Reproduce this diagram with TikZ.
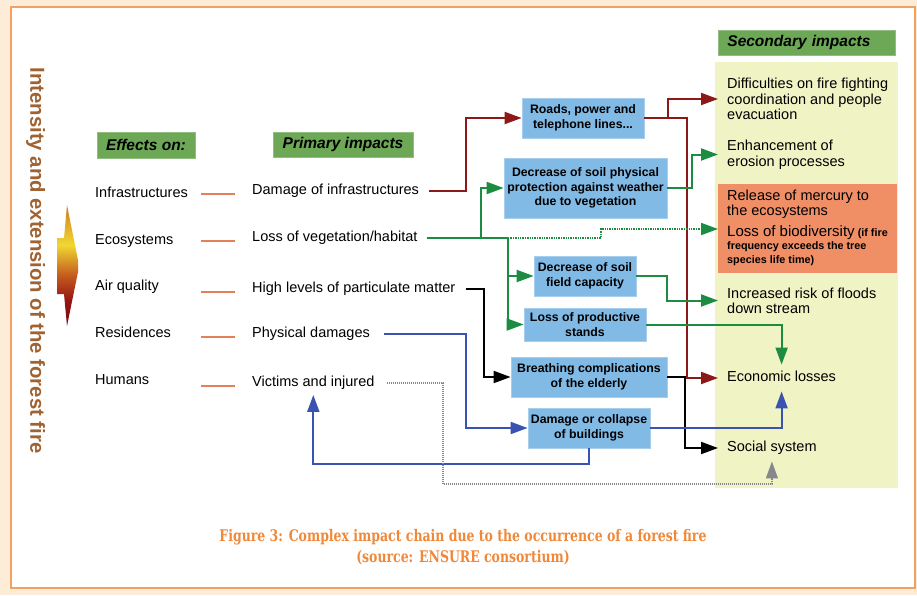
\documentclass[tikz,border=0pt]{standalone}
\usepackage{fontspec}
\setmainfont{Liberation Sans}
\newfontfamily\capfont[FakeStretch=0.78]{DejaVu Serif}
\usetikzlibrary{arrows.meta}

\definecolor{peach}{RGB}{253,236,216}
\definecolor{frameorange}{RGB}{246,160,96}
\definecolor{hdrgreen}{RGB}{108,168,86}
\definecolor{paleyellow}{RGB}{240,243,196}
\definecolor{salmon}{RGB}{240,142,102}
\definecolor{boxblue}{RGB}{130,186,230}
\definecolor{linered}{RGB}{140,24,24}
\definecolor{linegreen}{RGB}{28,140,64}
\definecolor{lineblue}{RGB}{58,82,176}
\definecolor{linegrey}{RGB}{135,135,140}
\definecolor{dashorange}{RGB}{226,128,90}
\definecolor{captionorange}{RGB}{240,136,56}
\definecolor{vbrown}{RGB}{160,98,48}
\definecolor{flameA}{RGB}{120,10,15}
\definecolor{flameB}{RGB}{150,22,20}
\definecolor{flameC}{RGB}{196,92,30}
\definecolor{flameD}{RGB}{240,215,50}
\definecolor{flameE}{RGB}{226,170,40}
\definecolor{flameF}{RGB}{200,120,30}

% flame gradient: dark red at the foot, yellow in the upper body
\pgfdeclareverticalshading{flame}{100bp}{%
  color(0bp)=(flameA); color(25bp)=(flameA); color(35.7bp)=(flameB);
  color(46bp)=(flameC); color(58.5bp)=(flameD); color(66.7bp)=(flameE);
  color(75bp)=(flameF); color(100bp)=(flameF)}

\begin{document}
\begin{tikzpicture}[x=1pt,y=-1pt,
  conn/.style={line width=2pt, -{Triangle[length=17pt,width=12pt]}},
  redl/.style={conn, linered},
  grnl/.style={conn, linegreen},
  blul/.style={conn, lineblue},
  blkl/.style={conn, black},
  grndot/.style={conn, linegreen, line width=1.8pt, dash pattern=on 1.3pt off 1.1pt},
  greydot/.style={line width=1.2pt, linegrey, dash pattern=on 1pt off 1pt,
    -{Triangle[length=17pt,width=12pt]}},
  orangedash/.style={line width=2pt, dashorange},
  header/.style={fill=hdrgreen, draw=hdrgreen!75!white, line width=0.8pt,
    inner sep=0pt, font=\fontsize{15.5}{17}\selectfont\bfseries\itshape},
  effect/.style={anchor=west, inner sep=0pt, font=\fontsize{14.5}{16}\selectfont,
    text height=10.5pt, text depth=3pt},
  primary/.style={anchor=west, inner xsep=0pt, inner ysep=5pt,
    font=\fontsize{14.5}{16}\selectfont, text height=10.5pt, text depth=3pt},
  second/.style={anchor=west, inner xsep=9pt, inner ysep=0pt, align=left,
    font=\fontsize{14.5}{15.5}\selectfont},
  secone/.style={anchor=west, inner xsep=9pt, inner ysep=6.5pt,
    font=\fontsize{14.5}{15.5}\selectfont, text height=10.5pt, text depth=3pt},
  stepbox/.style={fill=boxblue, draw=boxblue!70!white, line width=0.8pt,
    inner sep=0pt, align=center, font=\fontsize{12.3}{14.5}\selectfont\bfseries}
  ]
\useasboundingbox (0,0) rectangle (917,595);

% page ground and frame
\fill[peach] (0,0) rectangle (917,595);
\draw[frameorange, line width=1.6pt, fill=white] (11,7) rectangle (915,588);

% side caption and flame arrow
\node[rotate=-90, text=vbrown, inner sep=0pt,
  font=\fontsize{20.3}{22}\selectfont\bfseries] (side) at (35.5,260.5)
  {Intensity and extension of the forest fire};
\shade[shading=flame] (67,205) -- (78,260) -- (78,272) -- (67,326) -- (64,294)
  -- (57,294) -- (57,238) -- (64,238) -- cycle;

% background panels of the secondary column
\fill[paleyellow] (715,62) rectangle (898,488);
\fill[salmon] (718,184) rectangle (897,273);

% column headers
\node[header, minimum width=98pt, minimum height=26pt] (hEff) at (146,145) {Effects on:};
\node[header, minimum width=140pt, minimum height=25pt] (hPri) at (343,144.5) {Primary impacts};
\node[header, minimum width=177pt, minimum height=25pt, anchor=west,
  inner xsep=9pt, text width=159pt, align=left] (hSec) at (718,42.5) {Secondary impacts};

% effects on
\node[effect] (infra) at (95,194) {Infrastructures};
\node[effect] (eco)   at (95,241) {Ecosystems};
\node[effect] (air)   at (95,287) {Air quality};
\node[effect] (res)   at (95,334) {Residences};
\node[effect] (hum)   at (95,381) {Humans};

% primary impacts
\node[primary] (dmg)  at (252,191) {Damage of infrastructures};
\node[primary] (veg)  at (252,238) {Loss of vegetation/habitat};
\node[primary] (pm)   at (252,289) {High levels of particulate matter};
\node[primary] (phys) at (252,334) {Physical damages};
\node[primary] (vic)  at (252,383) {Victims and injured};

% short links between the two columns
\coordinate (dA) at (201,0);
\coordinate (dB) at (235,0);
\foreach \p in {dmg,veg,pm,phys,vic}
  \draw[orangedash] ([yshift=-2.5pt]\p.west -| dA) -- ([yshift=-2.5pt]\p.west -| dB);

% secondary impacts
\node[second] (diff) at (718,99) {Difficulties on fire fighting\\coordination and people\\evacuation};
\node[second] (eros) at (718,154.5) {Enhancement of\\erosion processes};
\node[second, font=\fontsize{14.5}{15}\selectfont] (merc) at (718,204.5) {Release of mercury to\\the ecosystems};
\node[second, anchor=north west, font=\fontsize{10.8}{13.5}\selectfont\bfseries] (bio) at (718,225)
  {{\fontsize{15}{13.5}\selectfont\mdseries Loss of biodiversity} (if fire\\frequency exceeds the tree\\species life time)};
\node[second, font=\fontsize{14.5}{15}\selectfont] (flood) at (718,300.5) {Increased risk of floods\\down stream};
\node[secone] (econ) at (718,378) {Economic losses};
\node[secone] (social) at (718,448) {Social system};

% bend columns
\coordinate (r0) at (466,0);
\coordinate (r1) at (668,0);
\coordinate (r2) at (687,0);
\coordinate (g0) at (481,0);
\coordinate (g2) at (508,0);
\coordinate (g3) at (601,0);
\coordinate (g4) at (692,0);
\coordinate (g5) at (667,0);
\coordinate (k0) at (484,0);
\coordinate (k1) at (685,0);
\coordinate (b0) at (466,0);
\coordinate (b1) at (0,464);
\coordinate (w1) at (443,484);

% intermediate impacts
\node[stepbox, minimum width=122pt, minimum height=40pt] (roads)    at (583,118)   {Roads, power and\\telephone lines...};
\node[stepbox, minimum width=163pt, minimum height=60pt] (soilprot) at (585.5,188) {Decrease of soil physical\\protection against weather\\due to vegetation};
\node[stepbox, minimum width=102pt, minimum height=40pt] (fieldcap) at (585,276)   {Decrease of soil\\field capacity};
\node[stepbox, minimum width=122pt, minimum height=33pt] (stands)   at (585,324.5) {Loss of productive\\stands};
\node[stepbox, minimum width=156pt, minimum height=40pt] (breath)   at (589,377)   {Breathing complications\\of the elderly};
\node[stepbox, minimum width=122pt, minimum height=40pt] (bld)      at (589,428)   {Damage or collapse\\of buildings};

% infrastructure chain
\draw[redl] ([xshift=10pt]dmg.east) -- (dmg.east -| r0) |- (roads.west);
\draw[redl] (roads.east) -- (roads.east -| r1) |- (diff.west);
\draw[redl] (roads.east) -- (roads.east -| r2) |- (econ.west);

% vegetation chain
\draw[grnl] ([xshift=9pt]veg.east) -- (veg.east -| g0) |- (soilprot.west);
\draw[grnl] ([xshift=9pt]veg.east) -- (veg.east -| g2) |- (fieldcap.west);
\draw[grnl] (veg.east -| g2) |- (stands.west);
\draw[grndot] (veg.east -| g2) -- (veg.east -| g3) |- ([yshift=-4pt]bio.north west);
\draw[grnl] (soilprot.east) -- (soilprot.east -| g4) |- (eros.west);
\draw[grnl] (fieldcap.east) -- (fieldcap.east -| g5) |- (flood.west);
\draw[grnl] (stands.east) -| (econ.north);

% air quality chain
\draw[blkl] ([xshift=10pt]pm.east) -- (pm.east -| k0) |- (breath.west);
\draw[blkl] (breath.east) -- (breath.east -| k1) |- (social.west);

% residences chain
\draw[blul] ([xshift=14pt]phys.east) -- (phys.east -| b0) |- (bld.west);
\draw[blul] (bld.east) -| (econ.south);
\draw[blul] (bld.south) -- (bld.south |- b1) -| (vic.south);

% human chain
\draw[greydot] ([xshift=12pt]vic.east) -| (w1) -| (social.south);

% figure caption
\node[align=center, text=captionorange, inner sep=0pt,
  font=\capfont\fontsize{16}{21}\selectfont\bfseries] (cap) at (463,547.5)
  {Figure 3: Complex impact chain due to the occurrence of a forest fire\\(source: ENSURE consortium)};
\end{tikzpicture}
\end{document}
